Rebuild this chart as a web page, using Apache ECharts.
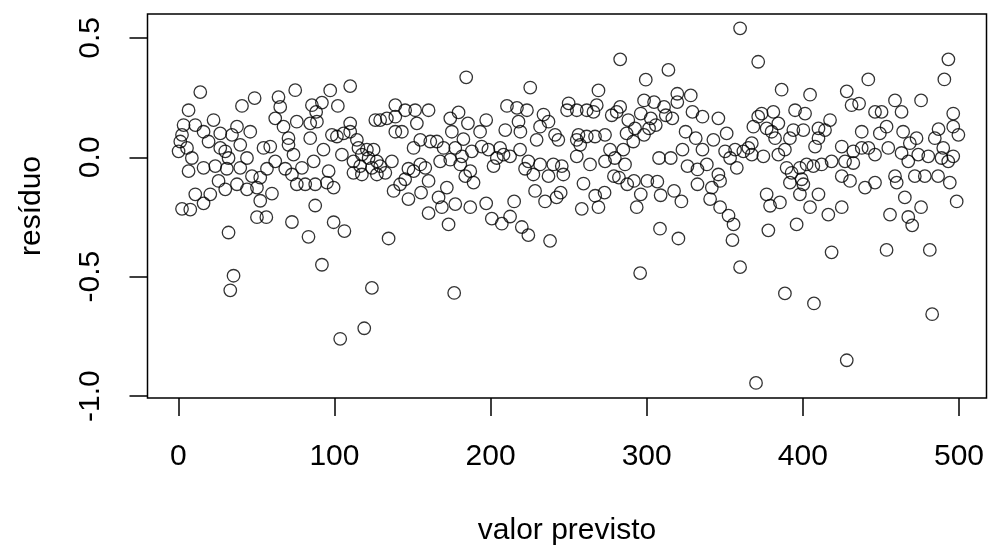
<!DOCTYPE html>
<html lang="pt">

<head>
    <meta charset="UTF-8">
    <title>resíduo x valor previsto</title>
    <style>
        html, body { margin: 0; padding: 0; background: #fff; }
    </style>
</head>

<body>
    <div id="main" style="width:989px;height:551px;"></div>
    <script src="https://cdn.jsdelivr.net/npm/echarts@6/dist/echarts.min.js"></script>
    <script>
        // pontos (valor previsto, residuo)
        var valorPrevisto = [
            14.1, 6.6, 3.4, 10.9, 22.6, 40.8, 48.9, 64.2, 74.9, 65.3,
            62.1, 67.4, 75.9, 26.9, 37.6, 46.1, 34.4, 16.2, 2.4, 1.3,
            0.2, 5.6, 19.4, 26.9, 30.1, 39.7, 54.6, 58.9, 70.6, 70.6,
            73.8, 8.7, 6.6, 16.2, 23.7, 32.2, 31.1, 39.7, 44.0, 47.2,
            52.5, 56.8, 62.1, 68.5, 72.8, 75.9, 25.8, 30.1, 37.6, 44.0,
            50.4, 52.5, 60.0, 10.9, 20.5, 16.2, 2.4, 7.7, 50.4, 56.4,
            72.8, 32.2, 35.4, 33.3,
            // 80 - 160
            97.3, 110.1, 85.6, 92.0, 102.2, 88.3, 84.5, 88.8, 84.5, 93.0,
            98.4, 101.6, 105.9, 110.1, 110.1, 104.8, 114.4, 115.4, 117.6, 120.8,
            125.1, 112.2, 116.5, 121.9, 127.2, 129.3, 132.6, 127.2, 124.0, 112.2,
            117.6, 136.8, 139.0, 145.3, 151.7, 160.3, 126.2, 129.3, 133.6, 139.0,
            152.8, 139.0, 143.2, 155.0, 150.7, 161.4, 147.4, 150.7, 155.0, 158.2,
            160.3, 145.3, 142.1, 137.9, 147.4, 155.5, 160.3, 86.7, 79.2, 81.3,
            87.7, 96.3, 95.2, 99.5, 87.7, 99.5, 106.4, 83.4, 92.0, 134.7,
            124.0, 119.1, 103.7,
            // 165 - 250
            184.4, 225.4, 210.5, 216.9, 223.3, 179.5, 174.2, 185.5, 197.2, 175.2,
            182.6, 193.3, 209.4, 217.9, 219.1, 233.9, 237.1, 231.7, 241.3, 243.4,
            250.0, 249.0, 229.5, 165.6, 169.9, 177.4, 181.7, 167.7, 174.2, 188.0,
            194.3, 198.6, 206.1, 208.3, 201.9, 204.0, 212.5, 218.9, 224.2, 222.1,
            227.4, 231.7, 237.1, 240.2, 245.6, 246.6, 180.6, 183.8, 189.1, 187.0,
            172.0, 166.7, 168.8, 177.4, 187.0, 197.2, 215.1, 228.5, 234.9, 242.3,
            244.9, 173.1, 200.8, 207.2, 212.5, 220.0, 224.2, 238.1, 176.7,
            // 250 - 335
            283.0, 313.9, 299.4, 269.1, 268.0, 255.2, 261.6, 265.9, 277.6, 283.0,
            280.8, 288.2, 298.3, 304.7, 311.1, 319.6, 328.2, 319.6, 296.2, 302.6,
            312.2, 316.4, 329.3, 335.7, 324.9, 331.4, 335.7, 292.5, 287.1, 301.5,
            305.8, 298.3, 291.4, 285.0, 276.5, 273.3, 266.9, 261.6, 256.3, 255.2,
            257.4, 255.2, 263.7, 273.3, 279.6, 286.1, 279.0, 282.2, 287.5, 291.8,
            300.4, 306.8, 307.9, 315.4, 322.9, 326.1, 332.5, 332.5, 259.5, 267.0,
            273.0, 258.4, 269.1, 296.2, 293.6, 308.9, 317.5, 322.2, 308.5, 320.3,
            295.8,
            // 335 - 420
            359.8, 371.4, 386.4, 404.6, 345.9, 351.2, 342.7, 338.5, 345.9, 347.0,
            341.7, 340.6, 347.0, 352.4, 355.6, 354.9, 359.8, 353.4, 350.2, 356.6,
            357.7, 361.9, 365.1, 367.3, 367.3, 374.7, 371.4, 373.6, 381.1, 368.3,
            376.8, 384.3, 382.2, 380.0, 384.3, 388.5, 391.7, 393.9, 400.3, 395.0,
            401.4, 410.0, 417.4, 414.2, 410.0, 407.8, 389.6, 392.8, 391.7, 398.1,
            402.4, 406.7, 412.0, 418.4, 399.2, 400.3, 398.1, 404.6, 410.0, 416.3,
            376.8, 379.0, 385.3, 377.9, 396.0, 418.4, 388.5, 407.1, 370.0,
            // 420 - 500
            493.2, 490.6, 441.9, 428.1, 431.2, 436.0, 459.0, 475.7, 446.2, 450.4,
            463.2, 496.3, 486.9, 496.3, 499.6, 437.7, 449.3, 453.6, 464.2, 472.8,
            468.5, 484.5, 489.9, 424.9, 432.3, 437.7, 442.0, 446.2, 454.7, 463.2,
            467.5, 473.9, 480.3, 488.8, 496.3, 493.1, 427.0, 432.3, 430.2, 424.9,
            439.8, 446.2, 459.0, 460.1, 471.7, 478.1, 486.6, 494.1, 465.3, 498.5,
            475.7, 455.8, 467.5, 470.0, 424.9, 453.6, 481.3, 482.8, 428.1
        ];
        var residuo = [
            0.273, 0.197, 0.135, 0.135, 0.156, 0.215, 0.248, 0.252, 0.281, 0.211,
            0.163, 0.128, 0.149, 0.100, 0.128, 0.107, 0.094, 0.107, 0.094, 0.066,
            0.025, 0.039, 0.066, 0.039, 0.025, 0.052, 0.039, 0.045, 0.080, 0.052,
            0.011, -0.003, -0.058, -0.044, -0.037, -0.003, -0.048, -0.044, -0.003, -0.079,
            -0.085, -0.048, -0.017, -0.048, -0.072, -0.113, -0.099, -0.134, -0.113, -0.134,
            -0.127, -0.182, -0.152, -0.155, -0.155, -0.193, -0.216, -0.219, -0.251, -0.251,
            -0.271, -0.315, -0.496, -0.557,
            // 80 - 160
            0.280, 0.298, 0.218, 0.229, 0.215, 0.190, 0.142, 0.149, 0.080, 0.032,
            0.094, 0.087, 0.100, 0.142, 0.107, 0.011, 0.073, 0.039, 0.011, 0.032,
            0.032, -0.017, -0.037, -0.003, -0.017, -0.037, -0.065, -0.072, -0.044, -0.065,
            -0.072, -0.017, 0.218, 0.197, 0.197, 0.197, 0.156, 0.156, 0.163, 0.170,
            0.142, 0.107, 0.107, 0.073, 0.039, 0.066, -0.048, -0.058, -0.030, -0.044,
            -0.099, -0.092, -0.113, -0.141, -0.175, -0.148, -0.234, -0.017, -0.044, -0.113,
            -0.113, -0.058, -0.106, -0.127, -0.202, -0.272, -0.309, -0.333, -0.450, -0.340,
            -0.547, -0.716, -0.760,
            // 165 - 250
            0.335, 0.292, 0.215, 0.207, 0.197, 0.188, 0.163, 0.142, 0.156, 0.107,
            0.076, 0.107, 0.114, 0.149, 0.107, 0.179, 0.149, 0.128, 0.094, 0.073,
            0.226, 0.197, 0.073, 0.066, 0.039, 0.039, 0.004, -0.017, -0.010, 0.025,
            0.045, 0.032, 0.039, 0.011, -0.037, -0.003, 0.004, 0.032, -0.017, -0.048,
            -0.072, -0.030, -0.079, -0.030, -0.037, -0.072, -0.030, -0.079, -0.106, -0.058,
            -0.127, -0.168, -0.209, -0.196, -0.209, -0.193, -0.185, -0.141, -0.185, -0.168,
            -0.148, -0.281, -0.257, -0.278, -0.248, -0.292, -0.326, -0.350, -0.568,
            // 250 - 335
            0.410, 0.366, 0.325, 0.280, 0.218, 0.197, 0.197, 0.190, 0.176, 0.211,
            0.190, 0.156, 0.238, 0.231, 0.211, 0.266, 0.259, 0.231, 0.183, 0.163,
            0.176, 0.163, 0.190, 0.170, 0.107, 0.080, 0.032, 0.121, 0.100, 0.121,
            0.135, 0.094, 0.066, 0.032, 0.032, 0.094, 0.087, 0.087, 0.094, 0.073,
            0.052, 0.004, -0.030, -0.017, -0.003, -0.030, -0.079, -0.085, -0.113, -0.099,
            -0.099, -0.102, -0.003, -0.003, 0.032, -0.037, -0.051, -0.113, -0.110, -0.161,
            -0.148, -0.216, -0.209, -0.155, -0.209, -0.159, -0.141, -0.185, -0.299, -0.340,
            -0.485,
            // 335 - 420
            0.540, 0.400, 0.283, 0.262, 0.163, 0.100, 0.073, -0.030, -0.072, -0.099,
            -0.127, -0.175, -0.209, -0.244, -0.281, -0.347, -0.460, -0.003, 0.025, 0.032,
            -0.044, 0.025, 0.039, 0.011, 0.059, 0.004, 0.170, 0.183, 0.190, 0.128,
            0.121, 0.142, 0.080, 0.107, 0.011, 0.032, 0.080, 0.114, 0.114, 0.197,
            0.183, 0.121, 0.156, 0.114, 0.080, 0.045, -0.044, -0.065, -0.106, -0.044,
            -0.030, -0.037, -0.030, -0.017, -0.092, -0.113, -0.155, -0.209, -0.155, -0.240,
            -0.155, -0.203, -0.189, -0.306, -0.281, -0.398, -0.570, -0.612, -0.945,
            // 420 - 500
            0.410, 0.326, 0.326, 0.276, 0.218, 0.225, 0.238, 0.238, 0.190, 0.190,
            0.190, 0.183, 0.118, 0.128, 0.094, 0.107, 0.100, 0.128, 0.107, 0.080,
            0.059, 0.080, 0.039, 0.045, 0.025, 0.039, 0.039, 0.011, 0.039, 0.018,
            -0.017, 0.011, 0.004, -0.003, 0.004, -0.017, -0.017, -0.024, -0.099, -0.079,
            -0.127, -0.106, -0.079, -0.106, -0.079, -0.079, -0.079, -0.106, -0.168, -0.185,
            -0.209, -0.240, -0.250, -0.285, -0.209, -0.388, -0.388, -0.657, -0.850
        ];

        var xTicks = [0, 100, 200, 300, 400, 500];
        var yTicks = [-1.0, -0.5, 0.0, 0.5];

        var pontos = [];
        for (var i = 0; i < valorPrevisto.length; i++) {
            pontos.push([valorPrevisto[i], residuo[i]]);
        }

        var fonte = "'Liberation Sans', Arial, Helvetica, sans-serif";

        var myChart = echarts.init(document.getElementById('main'), null, { renderer: 'canvas' });
        var option = {
            animation: false,
            backgroundColor: '#fff',
            grid: {
                left: 147.5,
                right: 2.5,
                top: 14,
                bottom: 152,
                show: true,
                borderColor: '#000',
                borderWidth: 1.5,
                backgroundColor: 'transparent'
            },
            xAxis: {
                type: 'value',
                min: -19.7,
                max: 517.6,
                name: 'valor previsto',
                nameLocation: 'middle',
                nameGap: 118,
                nameTextStyle: { fontSize: 30, color: '#000', fontFamily: fonte },
                axisLine: { show: false, onZero: false },
                splitLine: { show: false },
                axisTick: {
                    show: true,
                    inside: false,
                    length: 18,
                    customValues: xTicks,
                    lineStyle: { color: '#000', width: 1.5 }
                },
                axisLabel: {
                    customValues: xTicks,
                    margin: 44,
                    fontSize: 30,
                    color: '#000',
                    fontFamily: fonte
                }
            },
            yAxis: {
                type: 'value',
                min: -1.008,
                max: 0.600,
                name: 'resíduo',
                nameLocation: 'middle',
                nameGap: 101,
                nameTextStyle: { fontSize: 30, color: '#000', fontFamily: fonte },
                axisLine: { show: false, onZero: false },
                splitLine: { show: false },
                axisTick: {
                    show: true,
                    inside: false,
                    length: 18,
                    customValues: yTicks,
                    lineStyle: { color: '#000', width: 1.5 }
                },
                axisLabel: {
                    customValues: yTicks,
                    rotate: 90,
                    margin: 42,
                    fontSize: 30,
                    color: '#000',
                    fontFamily: fonte,
                    formatter: function (v) {
                        return v.toFixed(1);
                    }
                }
            },
            series: [{
                type: 'scatter',
                data: pontos,
                symbol: 'circle',
                symbolSize: 12.5,
                silent: true,
                itemStyle: {
                    color: 'transparent',
                    borderColor: '#000',
                    borderWidth: 1.3
                }
            }]
        };
        myChart.setOption(option);
    </script>
</body>

</html>
